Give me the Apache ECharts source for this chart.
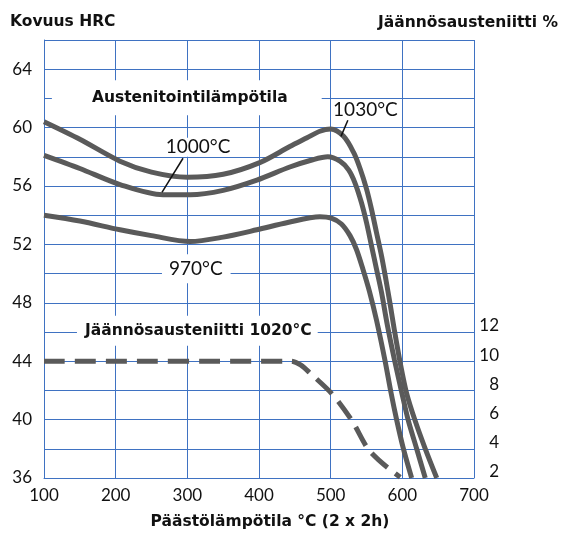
<!DOCTYPE html>
<html>
<head>
<meta charset="utf-8">
<script src="https://cdn.jsdelivr.net/npm/echarts@6/dist/echarts.min.js"></script>
<style>
  html, body { margin: 0; padding: 0; background: #fff; }
  #main { width: 562px; height: 534px; }
</style>
</head>
<body>
<div id="main"></div>
<script>
// päästölämpötila (°C) ja kovuus (HRC) eri austenitointilämpötiloilla
var curve970 = [
    [100, 54.0], [150, 53.6], [206, 53.0], [250, 52.6], [304, 52.2], [350, 52.5],
    [397, 53.0], [440, 53.5], [485, 53.9], [501, 53.8], [515, 53.4], [527, 52.6],
    [536, 51.65], [545, 50.3], [554, 48.8], [564, 46.8], [576, 44.0], [584, 41.9],
    [592, 40.0], [601, 38.1], [613, 36.0]
];
var curve1000 = [
    [100, 58.1], [150, 57.2], [206, 56.1], [266, 55.4], [304, 55.4], [350, 55.7],
    [397, 56.4], [443, 57.3], [475, 57.8], [496, 58.0], [513, 57.7], [525, 57.1],
    [534, 56.2], [543, 54.85], [550, 53.5], [557, 51.9], [564, 50.3], [571, 48.7],
    [579, 46.5], [589, 44.1], [599, 41.9], [608, 40.0], [620, 38.0], [632, 36.0]
];
var curve1030 = [
    [100, 60.4], [150, 59.2], [206, 57.7], [250, 56.95], [300, 56.6], [350, 56.8],
    [401, 57.6], [443, 58.7], [467, 59.3], [485, 59.75], [500, 59.9], [518, 59.4],
    [532, 58.3], [541, 57.2], [550, 55.8], [557, 54.4], [564, 52.8], [571, 51.2],
    [577, 49.6], [583, 47.9], [589, 46.1], [597, 43.9], [606, 41.8], [618, 39.9],
    [632, 38.0], [648, 36.0]
];
// jäännösausteniitti % (1020°C), oikea akseli
var retained1020 = [
    [100, 10.0], [445, 10.0], [458, 9.75], [471, 9.2], [503, 7.7], [530, 5.9],
    [552, 4.0], [570, 3.1], [585, 2.5], [597, 2.05]
];
var leftTicks = [36, 40, 44, 48, 52, 56, 60, 64];
var rightTicks = [2, 4, 6, 8, 10, 12];

// tekstit datakoordinaatteina [T, HRC] (laatikon vasen reuna / keskikohta)
var notes = [
    { text: 'Austenitointilämpötila', at: [111, 62.05], bold: true, align: 'left', pad: [13, 34, 6, 40] },
    { text: 'Jäännösausteniitti 1020°C', at: [146, 46.09], bold: true, align: 'left', pad: [8, 6, 6, 8] },
    { text: '1030°C', at: [548.5, 61.2], bold: false, align: 'center', pad: 0 },
    { text: '1000°C', at: [315, 58.65], bold: false, align: 'center', pad: [0, 2, 0, 2] },
    { text: '970°C', at: [264.6, 50.34], bold: false, align: 'left', pad: [4, 8, 6, 7] }
];
var leaders = [
    [[524, 60.5], [514.4, 59.4]],
    [[294, 57.9], [264.6, 55.56]]
];

var FONT = 'Lato, "Open Sans", sans-serif';
var BOLD = 'bold 15.5px "DejaVu Sans", sans-serif';
var gridColor = '#3f72c2';
var lineColor = '#5a5a5a';

var chart = echarts.init(document.getElementById('main'));

function lineSeries(name, data, yIdx, dashed) {
    return {
        name: name,
        type: 'line',
        yAxisIndex: yIdx,
        data: data,
        smooth: 0.3,
        showSymbol: false,
        silent: true,
        z: 3,
        lineStyle: { color: lineColor, width: 5, type: dashed ? [21, 10] : 'solid', cap: 'butt' }
    };
}

var option = {
    animation: false,
    backgroundColor: '#fff',
    grid: { left: 44, right: 88, top: 40, bottom: 56 },
    xAxis: {
        type: 'value',
        min: 100, max: 700, interval: 100,
        axisLine: { lineStyle: { color: gridColor, width: 1 } },
        axisTick: { show: false },
        axisLabel: { color: '#111', fontSize: 17, fontFamily: FONT, margin: 9 },
        splitLine: { show: true, lineStyle: { color: gridColor, width: 1 } }
    },
    yAxis: [{
        type: 'value',
        min: 36, max: 66, interval: 2,
        axisLine: { show: true, lineStyle: { color: gridColor, width: 1 } },
        axisTick: { show: false },
        axisLabel: {
            color: '#111', fontSize: 17, fontFamily: FONT, margin: 12,
            formatter: function (v) { return leftTicks.indexOf(v) >= 0 ? String(v) : ''; }
        },
        splitLine: { show: true, lineStyle: { color: gridColor, width: 1 } }
    }, {
        type: 'value',
        position: 'right',
        min: 2, max: 32, interval: 2,
        axisLine: { show: false },
        axisTick: { show: false },
        splitLine: { show: false },
        axisLabel: {
            color: '#111', fontSize: 17, fontFamily: FONT, margin: 25, align: 'right',
            verticalAlign: 'bottom', lineHeight: 12,
            formatter: function (v) { return rightTicks.indexOf(v) >= 0 ? String(v) : ''; }
        }
    }],
    series: [
        lineSeries('970°C', curve970, 0, false),
        lineSeries('1000°C', curve1000, 0, false),
        lineSeries('1030°C', curve1030, 0, false),
        lineSeries('Jäännösausteniitti 1020°C', retained1020, 1, true)
    ]
};
chart.setOption(option);

// otsikot ja tekstit
var graphics = [
    { type: 'text', x: 10, y: 22, z: 10,
      style: { text: 'Kovuus HRC', font: BOLD, fill: '#111', verticalAlign: 'middle' } },
    { type: 'text', x: 558, y: 23, z: 10,
      style: { text: 'Jäännösausteniitti %', font: BOLD, fill: '#111', align: 'right', verticalAlign: 'middle' } },
    { type: 'text', x: 270, y: 522, z: 10,
      style: { text: 'Päästölämpötila °C (2 x 2h)', font: BOLD, fill: '#111',
               align: 'center', verticalAlign: 'middle' } }
];
notes.forEach(function (n) {
    var p = chart.convertToPixel({ gridIndex: 0 }, n.at);
    graphics.push({
        type: 'text', x: p[0], y: p[1], z: 10,
        style: {
            text: n.text,
            font: n.bold ? BOLD : '19px ' + FONT,
            fill: '#111',
            align: n.align,
            verticalAlign: 'middle',
            backgroundColor: n.pad ? '#fff' : null,
            padding: n.pad
        }
    });
});
leaders.forEach(function (l) {
    var a = chart.convertToPixel({ gridIndex: 0 }, l[0]);
    var b = chart.convertToPixel({ gridIndex: 0 }, l[1]);
    graphics.push({
        type: 'line', z: 10,
        shape: { x1: a[0], y1: a[1], x2: b[0], y2: b[1] },
        style: { stroke: '#111', lineWidth: 1.5 }
    });
});
chart.setOption({ graphic: graphics });
</script>
</body>
</html>
